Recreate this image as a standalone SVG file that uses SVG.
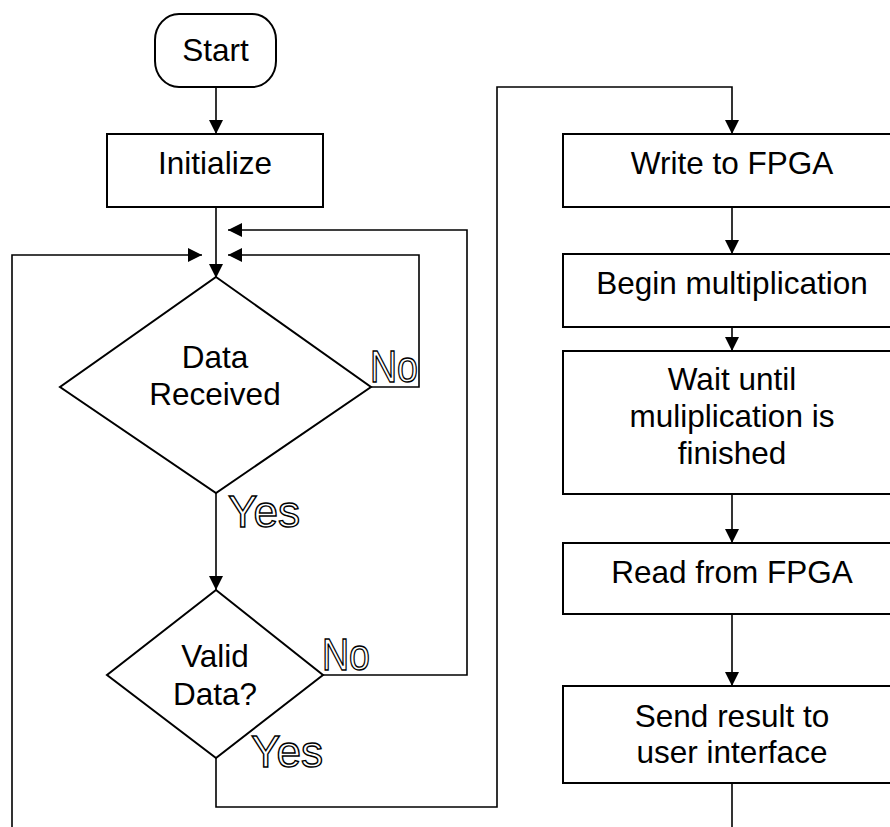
<svg xmlns="http://www.w3.org/2000/svg" width="890" height="827" viewBox="0 0 890 827">
<defs>
<style>
.box{fill:#fff;stroke:#000;stroke-width:2}
.ln{fill:none;stroke:#000;stroke-width:1.6}
.t{font-family:"Liberation Sans",Arial,sans-serif;font-size:31.5px;fill:#000;text-anchor:middle}
.o{font-family:"Liberation Sans",Arial,sans-serif;font-size:44px;fill:#fff;stroke:#000;stroke-width:1.4}
</style>
<marker id="ah" viewBox="0 0 14 14" refX="14" refY="7" markerWidth="14" markerHeight="14" markerUnits="userSpaceOnUse" orient="auto">
<path d="M0,0 L14,7 L0,14 Z" fill="#000"/>
</marker>
</defs>
<rect width="890" height="827" fill="#fff"/>
<g id="connectors">
<path class="ln" d="M216,87 V134" marker-end="url(#ah)"/>
<path class="ln" d="M216,207 V278" marker-end="url(#ah)"/>
<path class="ln" d="M323,675 H467 V230 H228" marker-end="url(#ah)"/>
<path class="ln" d="M371,387 H419 V255 H228" marker-end="url(#ah)"/>
<path class="ln" d="M12,827 V255 H202" marker-end="url(#ah)"/>
<path class="ln" d="M216,493 V590" marker-end="url(#ah)"/>
<path class="ln" d="M216,758 V807 H497 V87 H732 V134" marker-end="url(#ah)"/>
<path class="ln" d="M732,207 V254" marker-end="url(#ah)"/>
<path class="ln" d="M732,327 V351" marker-end="url(#ah)"/>
<path class="ln" d="M732,494 V543" marker-end="url(#ah)"/>
<path class="ln" d="M732,614 V686" marker-end="url(#ah)"/>
<path class="ln" d="M732,783 V827"/>
</g>
<g id="start">
<rect class="box" x="155" y="14" width="121" height="73" rx="24" ry="26"/>
<text class="t" x="215.5" y="61">Start</text>
</g>
<g id="initialize">
<rect class="box" x="107" y="134" width="216" height="73"/>
<text class="t" x="215" y="174">Initialize</text>
</g>
<g id="data-received">
<polygon class="box" points="216,277 371,387 216,493 60,387"/>
<text class="t" x="215" y="368">Data</text>
<text class="t" x="215" y="405">Received</text>
</g>
<g id="valid-data">
<polygon class="box" points="216,590 323,675 216,758 107,675"/>
<text class="t" x="215" y="667">Valid</text>
<text class="t" x="215" y="705">Data?</text>
</g>
<g id="write-fpga">
<rect class="box" x="563" y="134" width="340" height="73"/>
<text class="t" x="732" y="174">Write to FPGA</text>
</g>
<g id="begin-mult">
<rect class="box" x="563" y="254" width="340" height="73"/>
<text class="t" x="732" y="294">Begin multiplication</text>
</g>
<g id="wait">
<rect class="box" x="563" y="351" width="340" height="143"/>
<text class="t" x="732" y="390">Wait until</text>
<text class="t" x="732" y="427">muliplication is</text>
<text class="t" x="732" y="464">finished</text>
</g>
<g id="read-fpga">
<rect class="box" x="563" y="543" width="340" height="71"/>
<text class="t" x="732" y="583">Read from FPGA</text>
</g>
<g id="send-result">
<rect class="box" x="563" y="686" width="340" height="97"/>
<text class="t" x="732" y="727">Send result to</text>
<text class="t" x="732" y="763">user interface</text>
</g>
<g id="labels">
<text class="o" x="370" y="382" textLength="48" lengthAdjust="spacingAndGlyphs">No</text>
<text class="o" x="228" y="527" textLength="72" lengthAdjust="spacingAndGlyphs">Yes</text>
<text class="o" x="322" y="670" textLength="48" lengthAdjust="spacingAndGlyphs">No</text>
<text class="o" x="251" y="767" textLength="72" lengthAdjust="spacingAndGlyphs">Yes</text>
</g>
</svg>
